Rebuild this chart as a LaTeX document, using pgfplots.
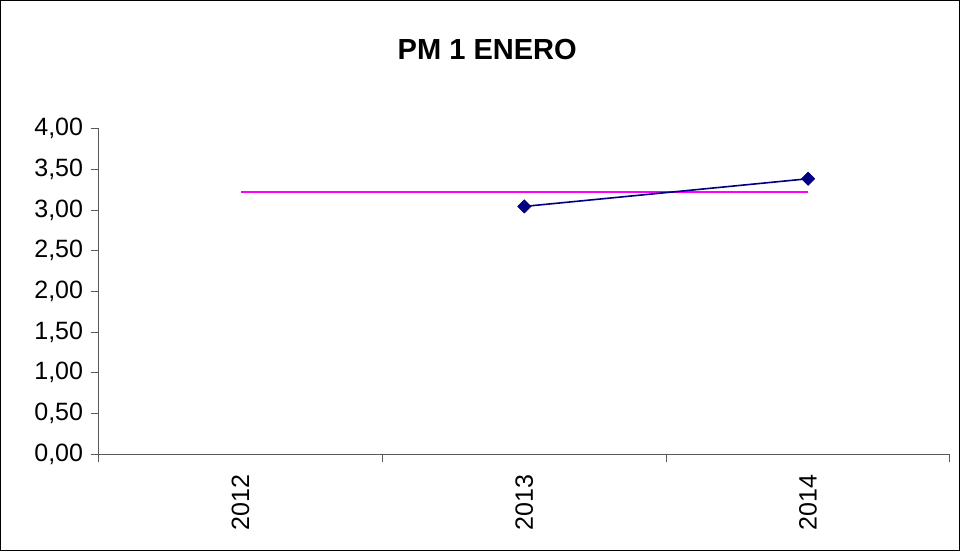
\documentclass[border=0pt]{standalone}
\usepackage{pgfplots}
\pgfplotsset{compat=1.18}
\usepackage{fontspec}
\setmainfont{Liberation Sans}
\definecolor{navy}{HTML}{000080}
\definecolor{mag}{HTML}{FF00FF}
\begin{document}
\begin{tikzpicture}[x=1pt,y=1pt]
\begin{axis}[
  name=ax,
  at={(0,0)}, anchor=south west,
  scale only axis,
  width=850pt, height=325pt,
  xmin=-0.5, xmax=2.5,
  ymin=0, ymax=4,
  axis lines*=left,
  axis line style={black!65, line width=1pt},
  ytick={0,0.5,1,1.5,2,2.5,3,3.5,4},
  yticklabel style={font=\fontsize{25}{29}\selectfont, xshift=-4pt},
  /pgf/number format/.cd, fixed, fixed zerofill, precision=2, use comma, assume math mode=true,
  /pgfplots/.cd,
  xtick={0,1,2},
  xticklabels={2012,2013,2014},
  xticklabel style={font=\fontsize{25}{29}\selectfont, rotate=90, anchor=east, yshift=0pt, xshift=-9pt},
  x tick style={draw=none},
  y tick style={black!65, line width=1pt},
  tick align=outside,
  major tick length=8pt,
  extra x ticks={-0.5,0.5,1.5,2.5},
  extra x tick labels={},
  extra x tick style={x tick style={draw=black!65, line width=1pt}, major tick length=8pt},
  clip=false,
]
\addplot[mag, line width=1.6pt] coordinates {(0,3.22) (1,3.22) (2,3.22)};
\addplot[navy, line width=1.6pt, mark=square*, mark size=4.7pt, mark options={rotate=45, fill=navy, draw=navy, line width=0.5pt}] coordinates {(1,3.045) (2,3.385)};
\end{axis}
\draw[black, line width=1pt] (-98,-96) rectangle (859.5,453);
\node[font=\fontsize{29}{34}\selectfont\bfseries] at (388,404) {PM 1 ENERO};
\end{tikzpicture}
\end{document}
